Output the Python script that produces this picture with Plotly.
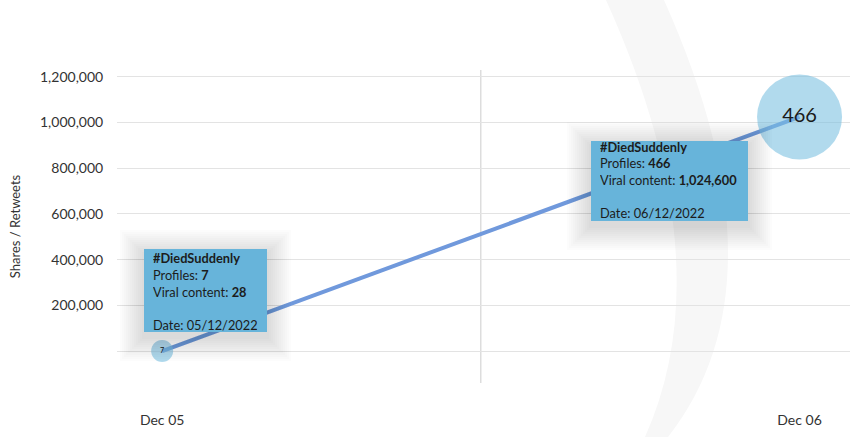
import plotly.graph_objects as go
import pandas as pd

# données
dates = ["2022-12-05", "2022-12-06"]
date_labels = ["05/12/2022", "06/12/2022"]
viral_content = [28, 1024600]
profiles = [7, 466]
hashtag = "#DiedSuddenly"

y_ticks = [0, 200000, 400000, 600000, 800000, 1000000, 1200000]
y_ticktext = ["", "200,000", "400,000", "600,000", "800,000", "1,000,000", "1,200,000"]
x_ticktext = ["Dec 05", "Dec 06"]

x = pd.to_datetime(dates)
pmax = max(profiles)
sizes = [21 + 64 * p / pmax for p in profiles]
text_sizes = [7 + 13 * p / pmax for p in profiles]

FONT = "Lato, 'Noto Sans', sans-serif"

fig = go.Figure()

# ligne
fig.add_trace(go.Scatter(
    x=x, y=viral_content, mode="lines",
    line=dict(color="#7099dc", width=4),
    hoverinfo="skip", showlegend=False,
))

# bulles (taille = nombre de profils)
fig.add_trace(go.Scatter(
    x=x, y=viral_content, mode="markers+text",
    marker=dict(size=sizes, color="rgba(118,190,224,0.82)", line=dict(width=0)),
    text=[str(p) for p in profiles], textposition="middle center",
    textfont=dict(size=text_sizes, color="#1a1a1a", family=FONT),
    hoverinfo="skip", showlegend=False,
))

# ligne verticale au milieu
mid = x[0] + (x[1] - x[0]) / 2
fig.add_vline(x=mid, line=dict(color="#cccccc", width=1), layer="below")

# arc décoratif (coordonnées pixel -> papier)
L, R, T, B = 117, 850, 70, 383
def px(xp, yp):
    return f"{(xp - L) / (R - L):.4f},{(B - yp) / (B - T):.4f}"

arc = (f"M {px(606, 0)} Q {px(724, 261)} {px(645, 437)} "
       f"L {px(668, 437)} Q {px(790, 281)} {px(664, 0)} Z")
fig.add_shape(type="path", path=arc, xref="paper", yref="paper",
              fillcolor="#f7f7f7", line=dict(width=0), layer="below")

# infobulles
tips = [
    dict(xshift=-18, yshift=19, yanchor="bottom", w=123, h=83),
    dict(xshift=-209, yshift=-24, yanchor="top", w=157, h=80),
]
for i, t in enumerate(tips):
    txt = (f"<b>{hashtag}</b><br>Profiles: <b>{profiles[i]}</b><br>"
           f"Viral content: <b>{viral_content[i]:,}</b><br><br>Date: {date_labels[i]}")
    sign = 1 if t["yanchor"] == "top" else -1
    common = dict(
        x=x[i], y=viral_content[i], xref="x", yref="y",
        showarrow=False, xanchor="left", yanchor=t["yanchor"],
    )
    # ombre douce (rectangles empilés)
    off = 5
    for s in range(24, 0, -2):
        fig.add_annotation(
            **common, text=" ", width=t["w"] + 2 * s - 4, height=t["h"] + 2 * s - 4,
            borderpad=2, borderwidth=0,
            xshift=t["xshift"] - s,
            yshift=t["yshift"] + sign * s - off,
            bgcolor="rgba(0,0,0,0.010)",
        )
    # fond
    fig.add_annotation(
        **common, text=" ", width=t["w"] - 4, height=t["h"] - 4, borderpad=2,
        xshift=t["xshift"], yshift=t["yshift"],
        bgcolor="#67b4da", borderwidth=0,
    )
    # texte
    fig.add_annotation(
        **common, text=txt, align="left",
        xshift=t["xshift"] + 8, yshift=t["yshift"] + sign * 1,
        borderpad=0, height=t["h"] - 2, valign="middle",
        font=dict(family=FONT, size=12.8, color="#1c1c1c"),
    )

fig.update_layout(
    width=860, height=437,
    margin=dict(l=L, r=860 - R, t=T, b=437 - B, autoexpand=False),
    paper_bgcolor="white", plot_bgcolor="rgba(0,0,0,0)",
    font=dict(family=FONT, color="#333333"),
)

fig.update_xaxes(
    automargin=False,
    range=[x[0] - pd.Timedelta(hours=1.7), x[1] + pd.Timedelta(hours=1.9)],
    tickvals=x, ticktext=x_ticktext,
    showgrid=False, zeroline=False, showline=False,
    ticks="outside", ticklen=24, tickcolor="rgba(0,0,0,0)",
    tickfont=dict(size=14, color="#333333"),
)

fig.update_yaxes(
    automargin=False,
    range=[-140000, 1230000],
    tickvals=y_ticks, ticktext=y_ticktext,
    showgrid=True, gridcolor="#e3e3e3", gridwidth=1,
    zeroline=False, showline=False,
    ticks="outside", ticklen=10, tickcolor="rgba(0,0,0,0)",
    tickfont=dict(size=14, color="#333333"),
    title=dict(text="Shares / Retweets", font=dict(size=13, color="#333333"), standoff=16),
)

fig.write_html("out.html", config={"displayModeBar": False},
               post_script="document.body.style.margin='0px';")
